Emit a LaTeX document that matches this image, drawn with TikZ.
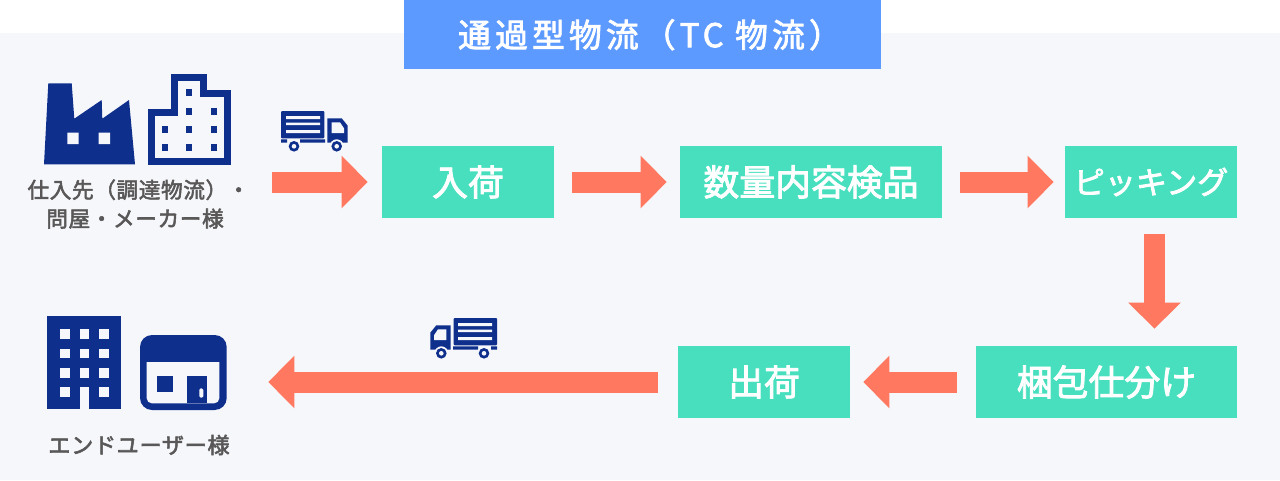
\documentclass[tikz,border=0pt]{standalone}
\usepackage{fontspec}
\setmainfont{Noto Sans CJK JP}
\newfontfamily\titlefont[LetterSpace=13,FakeBold=2.5]{Noto Sans CJK JP}
\newfontfamily\labelfont[LetterSpace=3,FakeBold=2.5]{Noto Sans CJK JP}
\newfontfamily\stepfont[FakeBold=2.5]{Noto Sans CJK JP}
\usetikzlibrary{arrows.meta,positioning,calc}

\definecolor{panelbg}{HTML}{F5F7FB}
\definecolor{titleblue}{HTML}{5C9AFF}
\definecolor{stepgreen}{HTML}{47DFBE}
\definecolor{flowred}{HTML}{FF785F}
\definecolor{iconnavy}{HTML}{0F2F8C}
\definecolor{labelgray}{HTML}{595757}

\tikzset{
  stepbox/.style={fill=stepgreen, text=white, minimum height=1.44cm, inner sep=0pt, font=\fontsize{20.4pt}{24pt}\stepfont},
  flowline/.style={draw=flowred, line width=.42cm, -{Triangle[length=.52cm, width=1.02cm]}},
  iconlabel/.style={text=labelgray, align=center, font=\fontsize{12.3pt}{16.4pt}\labelfont},
  truck/.pic={
    \fill[iconnavy, rounded corners=.02cm] (0,0) rectangle (43.3,27.3);
    \fill[panelbg] (5,5) rectangle (39,8) (5,11.5) rectangle (39,14) (5,19) rectangle (39,22);
    \fill[iconnavy] (0,28.3) rectangle (6,31.7) (19,28.3) rectangle (44,31.7);
    \fill[iconnavy] (46.3,7.3) -- (60.7,7.3) -- (66.7,14.7) -- (66.7,31.7) -- (46.3,31.7) -- cycle;
    \fill[panelbg] (50.7,11.3) -- (59,11.3) -- (63,17.3) -- (63,22) -- (50.7,22) -- cycle;
    \foreach \wx in {13,55.7} {
      \fill[panelbg] (\wx,35.3) circle (.14cm);
      \fill[iconnavy] (\wx,35.3) circle (.106cm);
      \fill[panelbg] (\wx,35.3) circle (.046cm);
    }
  }
}

\begin{document}
\begin{tikzpicture}[x=.02cm, y=-.02cm]
\useasboundingbox (0,0) rectangle (1280,480);

% panel and title
\fill[panelbg] (0,33) rectangle (1280,480);
\node[fill=titleblue, text=white, minimum width=9.54cm, minimum height=1.39cm, inner sep=0pt, font=\fontsize{18.6pt}{22pt}\titlefont] (title) at (642.5,34.75) {\hspace*{.3cm}通過型物流（TC 物流）};

% steps
\node[stepbox, minimum width=3.44cm] (nyuka) at (468,182) {\raisebox{-.02cm}{入荷}};
\node[stepbox, minimum width=5.24cm] (kensa) at (811,182) {\raisebox{-.02cm}{数量内容検品}};
\node[stepbox, minimum width=3.44cm, font=\fontsize{17.7pt}{22pt}\stepfont] (picking) at (1151,182) {\raisebox{-.02cm}{ピッキング}};
\node[stepbox, minimum width=5.22cm] (sorting) at (1106.5,382) {\raisebox{-.02cm}{梱包仕分け}};
\node[stepbox, minimum width=3.44cm] (shukka) at (764,382) {\raisebox{-.02cm}{出荷}};

% factory
\fill[iconnavy] (48.3,83.3) -- (71.7,83.3) -- (74.3,118.7) -- (101.7,100) -- (102.3,118.7) -- (129,100) -- (135,164.3) -- (44,164.3) -- cycle;
\fill[panelbg] (67.3,132.7) rectangle (78.7,144) (98.7,132.7) rectangle (110,144);

% office
\draw[iconnavy, line width=.14cm] (174.2,77.5) -- (203.8,77.5) -- (203.8,93.5) -- (227.2,93.5) -- (227.2,161.8) -- (151.8,161.8) -- (151.8,112.2) -- (174.2,112.2) -- cycle;
\foreach \wx/\wy in {189.3/92.7, 189.3/111, 213.7/111, 165/129, 189.3/129, 213.7/129, 165/147.3, 189.3/147.3, 213.7/147.3}
  \fill[iconnavy] (\wx-3,\wy-3.5) rectangle (\wx+3,\wy+3.5);

% tower
\fill[iconnavy] (47.3,316) rectangle (121.3,409.3);
\fill[panelbg] (80,387.3) rectangle (89.3,409.3);
\foreach \wx/\wy in {65/334, 84.3/334, 103.7/334, 65/353.3, 84.3/353.3, 103.7/353.3, 65/372.7, 84.3/372.7, 103.7/372.7, 65/392, 103.7/392}
  \fill[panelbg] (\wx-4.8,\wy-4.8) rectangle (\wx+4.8,\wy+4.8);

% shop
\fill[iconnavy, rounded corners=.24cm] (140,335) rectangle (226.7,410);
\fill[panelbg, rounded corners=.1cm] (146.7,350) rectangle (219.3,403.3);
\fill[iconnavy] (146,350) rectangle (220,362);
\fill[iconnavy] (157.3,376) rectangle (173.3,391.7);
\fill[iconnavy] (186.7,376) rectangle (207.3,403.3);
\fill[panelbg, rounded corners=.03cm] (199.3,388.3) rectangle (203.3,397.7);

% trucks
\pic at (281,111) {truck};
\pic[xscale=-1] at (497,318) {truck};

% labels
\node[iconlabel] (supplier) at (138.5,204) {仕入先（調達物流）・\\問屋・メーカー様\hspace*{.14cm}};
\node[iconlabel, font=\fontsize{12.6pt}{16.4pt}\labelfont] (enduser) at (139,445) {エンドユーザー様};

% flow
\coordinate (flowstart) at (272,182);
\coordinate (flowend) at (268.3,382);
\coordinate (picktap) at ([xshift=.07cm]picking.south);
\draw[flowline, shorten >=.28cm] (flowstart) -- (nyuka);
\draw[flowline, shorten <=.36cm, shorten >=.26cm] (nyuka) -- (kensa);
\draw[flowline, shorten <=.36cm, shorten >=.22cm] (kensa) -- (picking);
\draw[flowline, shorten <=.32cm, shorten >=.34cm] (picktap) -- (picktap |- sorting.north);
\draw[flowline, shorten <=.38cm, shorten >=.26cm] (sorting.west |- shukka) -- (shukka);
\draw[flowline, shorten <=.4cm] (shukka) -- (flowend);

\end{tikzpicture}
\end{document}
